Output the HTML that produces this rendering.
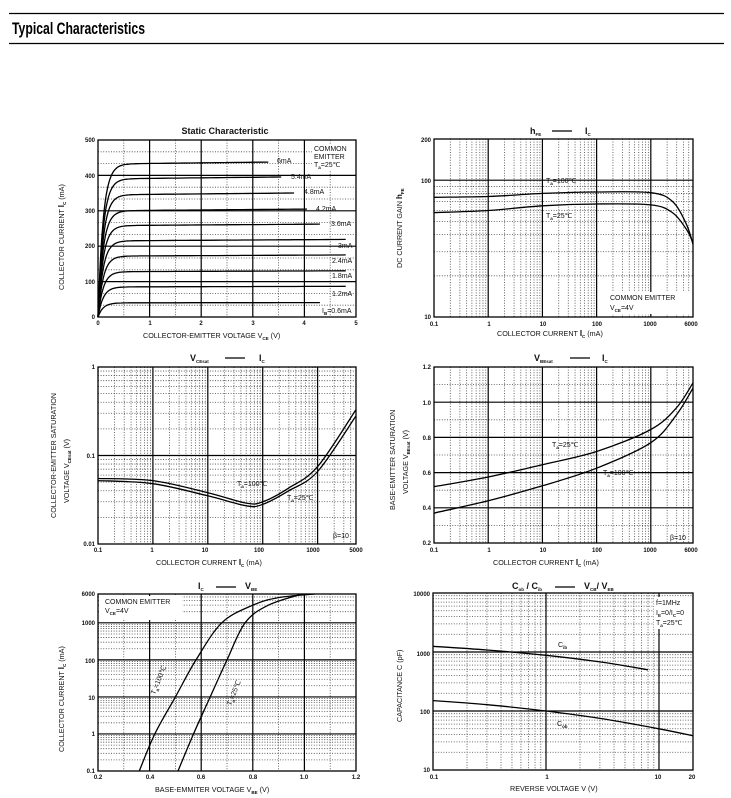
<!DOCTYPE html>
<html><head><meta charset="utf-8"><style>
html,body{margin:0;padding:0;background:#fff;}
svg{display:block;font-family:"Liberation Sans",Arial,sans-serif;}
.t{font-size:6px;font-weight:bold;fill:#111;}
.a{font-size:7.2px;fill:#111;}
.h{font-size:9px;font-weight:bold;fill:#111;}
.s{font-size:4.5px;font-weight:bold;fill:#111;}
.l{font-size:7px;fill:#111;}
</style></head><body>
<svg id="g" width="731" height="798" viewBox="0 0 731 798" xmlns="http://www.w3.org/2000/svg">
<line x1="9" y1="13.5" x2="724" y2="13.5" stroke="#000" stroke-width="1.3"/>
<line x1="9" y1="43.5" x2="724" y2="43.5" stroke="#000" stroke-width="1.3"/>
<text x="12" y="34" font-size="17" font-weight="bold" textLength="133" lengthAdjust="spacingAndGlyphs">Typical Characteristics</text>
<g id="grids"></g>
<g id="curves"></g>

<!-- Chart 1 -->
<text class="h" x="225" y="134" text-anchor="middle">Static Characteristic</text>
<g class="t" text-anchor="end"><text x="95" y="142">500</text><text x="95" y="178">400</text><text x="95" y="213">300</text><text x="95" y="248">200</text><text x="95" y="284">100</text><text x="95" y="319">0</text></g>
<g class="t" text-anchor="middle"><text x="98" y="325">0</text><text x="150" y="325">1</text><text x="201" y="325">2</text><text x="253" y="325">3</text><text x="304" y="325">4</text><text x="356" y="325">5</text></g>
<text class="a" x="143" y="338">COLLECTOR-EMITTER VOLTAGE   V<tspan class="s" dy="2">CE</tspan><tspan dy="-2">   (V)</tspan></text>
<text class="a" transform="translate(64,290) rotate(-90)">COLLECTOR CURRENT   <tspan font-weight="bold" font-size="8">I</tspan><tspan class="s" dy="2">C</tspan><tspan dy="-2">   (mA)</tspan></text>
<rect x="312" y="144" width="42" height="26" fill="#fff"/>
<g class="l" font-size="6.5"><text x="314" y="151">COMMON</text><text x="314" y="159">EMITTER</text><text x="314" y="167">T<tspan class="s" dy="2">a</tspan><tspan dy="-2">=25℃</tspan></text></g>
<g class="l" font-size="6.5">
<text x="277" y="163">6mA</text><text x="291" y="179">5.4mA</text><text x="304" y="194">4.8mA</text><text x="316" y="211">4.2mA</text><text x="331" y="226">3.6mA</text><text x="338" y="248">3mA</text><text x="332" y="263">2.4mA</text><text x="332" y="278">1.8mA</text><text x="332" y="296">1.2mA</text><text x="322" y="313">I<tspan class="s" dy="2">B</tspan><tspan dy="-2">=0.6mA</tspan></text></g>

<!-- Chart 2 -->
<text class="h" x="530" y="134">h<tspan class="s" dy="2">FE</tspan></text><line x1="552" y1="131" x2="572" y2="131" stroke="#000" stroke-width="1.2"/><text class="h" x="585" y="134">I<tspan class="s" dy="2">C</tspan></text>
<g class="t" text-anchor="end"><text x="431" y="142">200</text><text x="431" y="183">100</text><text x="431" y="319">10</text></g>
<g class="t" text-anchor="middle"><text x="434" y="326">0.1</text><text x="489" y="326">1</text><text x="543" y="326">10</text><text x="597" y="326">100</text><text x="650" y="326">1000</text><text x="691" y="326">6000</text></g>
<text class="a" x="497" y="336">COLLECTOR CURRENT   <tspan font-weight="bold" font-size="8">I</tspan><tspan class="s" dy="2">C</tspan><tspan dy="-2">   (mA)</tspan></text>
<text class="a" transform="translate(402,268) rotate(-90)">DC CURRENT GAIN   <tspan font-weight="bold" font-size="8">h</tspan><tspan class="s" dy="2">FE</tspan></text>
<rect x="608" y="292" width="84" height="22" fill="#fff"/>
<g class="l" font-size="6.5"><text x="610" y="300">COMMON EMITTER</text><text x="610" y="310">V<tspan class="s" dy="2">CE</tspan><tspan dy="-2">=4V</tspan></text>
<text x="546" y="183">T<tspan class="s" dy="2">a</tspan><tspan dy="-2">=100℃</tspan></text><text x="546" y="218">T<tspan class="s" dy="2">a</tspan><tspan dy="-2">=25℃</tspan></text></g>

<!-- Chart 3 -->
<text class="h" x="190" y="361">V<tspan class="s" dy="2">CEsat</tspan></text><line x1="225" y1="358" x2="245" y2="358" stroke="#000" stroke-width="1.2"/><text class="h" x="259" y="361">I<tspan class="s" dy="2">C</tspan></text>
<g class="t" text-anchor="end"><text x="95" y="369">1</text><text x="95" y="458">0.1</text><text x="95" y="546">0.01</text></g>
<g class="t" text-anchor="middle"><text x="98" y="552">0.1</text><text x="152" y="552">1</text><text x="205" y="552">10</text><text x="259" y="552">100</text><text x="313" y="552">1000</text><text x="356" y="552">5000</text></g>
<text class="a" x="156" y="565">COLLECTOR CURRENT   <tspan font-weight="bold" font-size="8">I</tspan><tspan class="s" dy="2">C</tspan><tspan dy="-2">   (mA)</tspan></text>
<text class="a" transform="translate(56,518) rotate(-90)">COLLECTOR-EMITTER SATURATION</text>
<text class="a" transform="translate(69,503) rotate(-90)">VOLTAGE   V<tspan class="s" dy="2">CEsat</tspan><tspan dy="-2">   (V)</tspan></text>
<g class="l" font-size="6.5"><text x="237" y="486">T<tspan class="s" dy="2">a</tspan><tspan dy="-2">=100℃</tspan></text><text x="287" y="500">T<tspan class="s" dy="2">a</tspan><tspan dy="-2">=25℃</tspan></text><text x="333" y="538">β=10</text></g>

<!-- Chart 4 -->
<text class="h" x="534" y="361">V<tspan class="s" dy="2">BEsat</tspan></text><line x1="570" y1="358" x2="590" y2="358" stroke="#000" stroke-width="1.2"/><text class="h" x="602" y="361">I<tspan class="s" dy="2">C</tspan></text>
<g class="t" text-anchor="end"><text x="431" y="369">1.2</text><text x="431" y="405">1.0</text><text x="431" y="440">0.8</text><text x="431" y="475">0.6</text><text x="431" y="510">0.4</text><text x="431" y="545">0.2</text></g>
<g class="t" text-anchor="middle"><text x="434" y="552">0.1</text><text x="489" y="552">1</text><text x="543" y="552">10</text><text x="597" y="552">100</text><text x="650" y="552">1000</text><text x="691" y="552">6000</text></g>
<text class="a" x="493" y="565">COLLECTOR CURRENT   <tspan font-weight="bold" font-size="8">I</tspan><tspan class="s" dy="2">C</tspan><tspan dy="-2">   (mA)</tspan></text>
<text class="a" transform="translate(395,510) rotate(-90)">BASE-EMITTER SATURATION</text>
<text class="a" transform="translate(408,494) rotate(-90)">VOLTAGE   V<tspan class="s" dy="2">BEsat</tspan><tspan dy="-2">   (V)</tspan></text>
<g class="l" font-size="6.5"><text x="552" y="447">T<tspan class="s" dy="2">a</tspan><tspan dy="-2">=25℃</tspan></text><text x="603" y="475">T<tspan class="s" dy="2">a</tspan><tspan dy="-2">=100℃</tspan></text><text x="670" y="540">β=10</text></g>

<!-- Chart 5 -->
<text class="h" x="198" y="589">I<tspan class="s" dy="2">C</tspan></text><line x1="216" y1="587" x2="236" y2="587" stroke="#000" stroke-width="1.2"/><text class="h" x="245" y="589">V<tspan class="s" dy="2">BE</tspan></text>
<g class="t" text-anchor="end"><text x="95" y="596">6000</text><text x="95" y="625">1000</text><text x="95" y="663">100</text><text x="95" y="700">10</text><text x="95" y="736">1</text><text x="95" y="773">0.1</text></g>
<g class="t" text-anchor="middle"><text x="98" y="779">0.2</text><text x="150" y="779">0.4</text><text x="201" y="779">0.6</text><text x="253" y="779">0.8</text><text x="304" y="779">1.0</text><text x="356" y="779">1.2</text></g>
<text class="a" x="155" y="792">BASE-EMMITER VOLTAGE   V<tspan class="s" dy="2">BE</tspan><tspan dy="-2">   (V)</tspan></text>
<text class="a" transform="translate(64,752) rotate(-90)">COLLECTOR CURRENT   <tspan font-weight="bold" font-size="8">I</tspan><tspan class="s" dy="2">C</tspan><tspan dy="-2">   (mA)</tspan></text>
<rect x="100" y="596" width="82" height="24" fill="#fff"/>
<g class="l" font-size="6.5"><text x="105" y="604">COMMON EMITTER</text><text x="105" y="613">V<tspan class="s" dy="2">CE</tspan><tspan dy="-2">=4V</tspan></text>
<text transform="translate(155,695) rotate(-68)">T<tspan class="s" dy="2">a</tspan><tspan dy="-2">=100℃</tspan></text>
<text transform="translate(231,706) rotate(-68)">T<tspan class="s" dy="2">a</tspan><tspan dy="-2">=25℃</tspan></text></g>

<!-- Chart 6 -->
<text class="h" x="512" y="589">C<tspan class="s" dy="2">ob</tspan><tspan dy="-2"> / C</tspan><tspan class="s" dy="2">ib</tspan></text><line x1="555" y1="587" x2="575" y2="587" stroke="#000" stroke-width="1.2"/><text class="h" x="584" y="589">V<tspan class="s" dy="2">CB</tspan><tspan dy="-2">/ V</tspan><tspan class="s" dy="2">EB</tspan></text>
<g class="t" text-anchor="end"><text x="430" y="596">10000</text><text x="430" y="656">1000</text><text x="430" y="714">100</text><text x="430" y="772">10</text></g>
<g class="t" text-anchor="middle"><text x="434" y="779">0.1</text><text x="547" y="779">1</text><text x="658" y="779">10</text><text x="692" y="779">20</text></g>
<text class="a" x="510" y="791">REVERSE VOLTAGE   V   (V)</text>
<text class="a" transform="translate(402,722) rotate(-90)">CAPACITANCE   C   (pF)</text>
<rect x="654" y="597" width="38" height="32" fill="#fff"/>
<g class="l" font-size="6.5"><text x="656" y="605">f=1MHz</text><text x="656" y="615">I<tspan class="s" dy="2">E</tspan><tspan dy="-2">=0/I</tspan><tspan class="s" dy="2">C</tspan><tspan dy="-2">=0</tspan></text><text x="656" y="625">T<tspan class="s" dy="2">a</tspan><tspan dy="-2">=25℃</tspan></text>
<text x="558" y="647">C<tspan class="s" dy="2">ib</tspan></text><text x="557" y="726">C<tspan class="s" dy="2">ob</tspan></text></g>
</svg>
<script>
var NS="http://www.w3.org/2000/svg",G=document.getElementById("grids"),C=document.getElementById("curves");
function ln(p,x1,y1,x2,y2,dot){var e=document.createElementNS(NS,"line");e.setAttribute("x1",x1);e.setAttribute("y1",y1);e.setAttribute("x2",x2);e.setAttribute("y2",y2);
e.setAttribute("stroke",dot?"#444":"#000");e.setAttribute("stroke-width",dot?0.8:1.2);if(dot)e.setAttribute("stroke-dasharray","1,1.6");p.appendChild(e);}
function lin(a,b,p,q){return function(v){return p+(v-a)/(b-a)*(q-p);};}
function lg(a,b,p,q){var la=Math.log10(a),lb=Math.log10(b);return function(v){return p+(Math.log10(v)-la)/(lb-la)*(q-p);};}
function logTicks(a,b){var M=[],m=[];for(var d=Math.floor(Math.log10(a));d<=Math.ceil(Math.log10(b));d++){for(var k=1;k<10;k++){var v=k*Math.pow(10,d);if(v<=a*1.0001||v>=b*0.9999)continue;(k==1?M:m).push(v);}}return[M,m];}
function chart(c){
 var x0=c.x0,x1=c.x1,y0=c.y0,y1=c.y1;
 c.vm.forEach(function(v){ln(G,c.X(v),y0,c.X(v),y1,true);});
 c.hm.forEach(function(v){ln(G,x0,c.Y(v),x1,c.Y(v),true);});
 c.vM.forEach(function(v){ln(G,c.X(v),y0,c.X(v),y1,false);});
 c.hM.forEach(function(v){ln(G,x0,c.Y(v),x1,c.Y(v),false);});
 var r=document.createElementNS(NS,"rect");r.setAttribute("x",x0);r.setAttribute("y",y0);r.setAttribute("width",x1-x0);r.setAttribute("height",y1-y0);r.setAttribute("fill","none");r.setAttribute("stroke","#000");r.setAttribute("stroke-width",1.3);G.appendChild(r);
 c.series.forEach(function(s){var pts=s.map(function(p){return[c.X(p[0]),c.Y(p[1])];});path(pts);});
}
function path(P){var d="M"+P[0][0].toFixed(1)+","+P[0][1].toFixed(1);
 for(var i=0;i<P.length-1;i++){var p0=P[i-1]||P[i],p1=P[i],p2=P[i+1],p3=P[i+2]||P[i+1];
  d+=" C"+(p1[0]+(p2[0]-p0[0])/6).toFixed(1)+","+(p1[1]+(p2[1]-p0[1])/6).toFixed(1)+" "+(p2[0]-(p3[0]-p1[0])/6).toFixed(1)+","+(p2[1]-(p3[1]-p1[1])/6).toFixed(1)+" "+p2[0].toFixed(1)+","+p2[1].toFixed(1);}
 var e=document.createElementNS(NS,"path");e.setAttribute("d",d);e.setAttribute("fill","none");e.setAttribute("stroke","#000");e.setAttribute("stroke-width",1.3);C.appendChild(e);}
function rng(a,b,s){var r=[];for(var v=a;v<=b+1e-9;v+=s)r.push(+v.toFixed(4));return r;}
// chart1
(function(){var X=lin(0,5,98,356),Y=lin(0,500,317,140);var ser=[];
 var sat=[40,85,128,172,215,258,300,345,390,432],ends=[4.5,5,5,5,5,4.5,4.25,4,3.75,3.5];
 sat.forEach(function(s,i){var a=[];for(var v=0;v<=ends[i]+1e-6;v+=(v<0.8?0.05:0.25)){a.push([v,s*(1-Math.exp(-v/0.1))*(1+0.004*v)]);}ser.push(a);});
 chart({x0:98,x1:356,y0:140,y1:317,X:X,Y:Y,vM:[1,2,3,4],vm:[0.5,1.5,2.5,3.5,4.5],hM:[100,200,300,400],hm:[33.3,66.7,133.3,166.7,233.3,266.7,333.3,366.7,433.3,466.7],series:ser});})();
// chart2
(function(){var t=logTicks(0.1,6000),ty=logTicks(10,200);
 chart({x0:434,x1:693,y0:139,y1:317,X:lg(0.1,6000,434,693),Y:lg(10,200,317,139),vM:t[0],vm:t[1],hM:ty[0],hm:ty[1],
 series:[[[0.1,75],[1,76],[10,80],[100,82],[1000,81],[2500,70],[4500,48],[6000,34]],[[0.1,58],[1,60],[10,65],[100,67],[1000,66],[2500,58],[4500,44],[6000,35]]]});})();
// chart3
(function(){var t=logTicks(0.1,5000),ty=logTicks(0.01,1);
 chart({x0:98,x1:356,y0:367,y1:544,X:lg(0.1,5000,98,356),Y:lg(0.01,1,544,367),vM:t[0],vm:t[1],hM:ty[0],hm:ty[1],
 series:[[[0.1,0.055],[1,0.052],[10,0.038],[50,0.029],[100,0.03],[300,0.043],[1000,0.075],[5000,0.33]],[[0.1,0.052],[1,0.048],[10,0.035],[50,0.027],[100,0.028],[300,0.04],[1000,0.066],[5000,0.28]]]});})();
// chart4
(function(){var t=logTicks(0.1,6000);
 chart({x0:434,x1:693,y0:367,y1:543,X:lg(0.1,6000,434,693),Y:lin(0.2,1.2,543,367),vM:t[0],vm:t[1],hM:[0.4,0.6,0.8,1.0],hm:[0.3,0.5,0.7,0.9,1.1],
 series:[[[0.1,0.52],[1,0.575],[10,0.645],[100,0.72],[1000,0.845],[3000,0.97],[6000,1.11]],[[0.1,0.37],[1,0.44],[10,0.525],[100,0.625],[1000,0.77],[3000,0.93],[6000,1.08]]]});})();
// chart5
(function(){var ty=logTicks(0.1,6000);
 chart({x0:98,x1:356,y0:594,y1:771,X:lin(0.2,1.2,98,356),Y:lg(0.1,6000,771,594),vM:[0.4,0.6,0.8,1.0],vm:[0.3,0.5,0.7,0.9,1.1],hM:ty[0],hm:ty[1],
 series:[[[0.36,0.1],[0.42,1],[0.5,10],[0.58,100],[0.68,1000],[0.8,3000],[0.9,4800],[1.04,6000]],[[0.51,0.1],[0.57,1],[0.635,10],[0.7,100],[0.77,1000],[0.86,3000],[0.99,6000]]]});})();
// chart6
(function(){var t=logTicks(0.1,20),ty=logTicks(10,10000);
 chart({x0:433,x1:693,y0:593,y1:770,X:lg(0.1,20,433,693),Y:lg(10,10000,770,593),vM:t[0],vm:t[1],hM:ty[0],hm:ty[1],
 series:[[[0.1,1250],[0.3,1080],[1,880],[3,680],[8,500]],[[0.1,150],[0.3,128],[1,100],[3,75],[10,50],[20,38]]]});})();
</script>
</body></html>
